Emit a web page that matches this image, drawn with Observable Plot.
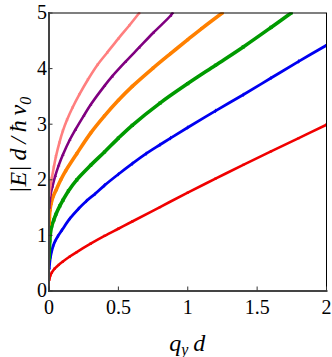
<!DOCTYPE html>
<html><head><meta charset="utf-8">
<script src="https://cdn.jsdelivr.net/npm/d3@7"></script>
<script src="https://cdn.jsdelivr.net/npm/@observablehq/plot@0.6"></script>
<style>html,body{margin:0;padding:0;background:#fff;}
svg, svg text, svg g{font-family:"Liberation Serif","Times New Roman",Times,serif !important;}</style>
</head><body><div id="chart"></div>
<script>
const xTicks = [0, 0.5, 1, 1.5, 2];
const yTicks = [0, 1, 2, 3, 4, 5];

const qRed = [0.002,0.005,0.01,0.02,0.04,0.07,0.1,0.15,0.2,0.3,0.4,0.5,0.6,0.8,1.0,1.2,1.4,1.6,1.8,2.0];
const eRed = [0.20,0.24,0.28,0.33,0.40,0.47,0.53,0.62,0.70,0.85,0.99,1.12,1.25,1.51,1.77,2.02,2.27,2.51,2.75,2.99];

const qBlue = [0.002,0.005,0.01,0.02,0.03,0.045,0.065,0.092,0.15,0.213,0.27,0.333,0.4,0.5,0.6,0.7,0.8,0.876,1.0,1.2,1.4,1.6,1.8,2.0];
const eBlue = [0.40,0.50,0.60,0.72,0.81,0.90,0.99,1.09,1.30,1.48,1.62,1.75,1.90,2.10,2.29,2.47,2.63,2.75,2.94,3.24,3.53,3.83,4.13,4.42];

const qGreen = [0.001,0.003,0.006,0.01,0.02,0.035,0.05,0.078,0.1,0.14,0.2,0.3,0.4,0.5,0.6,0.8,1.0,1.2,1.4,1.6,1.745];
const eGreen = [0.58,0.75,0.90,1.03,1.17,1.28,1.38,1.53,1.63,1.80,2.00,2.26,2.50,2.75,2.98,3.38,3.73,4.06,4.39,4.74,5.0];

const qOrange = [0.001,0.003,0.007,0.015,0.03,0.05,0.085,0.12,0.2,0.3,0.4,0.5,0.6,0.75,0.876,1.0,1.1,1.248];
const eOrange = [1.20,1.32,1.45,1.57,1.70,1.81,2.00,2.16,2.47,2.84,3.15,3.43,3.68,4.01,4.27,4.52,4.72,5.0];

const qPurple = [0.002,0.006,0.012,0.025,0.045,0.07,0.1,0.15,0.19,0.25,0.3,0.4,0.455,0.55,0.65,0.75,0.876,0.89];
const ePurple = [1.50,1.63,1.74,1.88,2.07,2.26,2.45,2.72,2.90,3.15,3.35,3.69,3.86,4.12,4.38,4.64,4.95,5.0];

const qPink = [0.002,0.006,0.012,0.02,0.035,0.05,0.075,0.1,0.13,0.17,0.22,0.28,0.35,0.42,0.5,0.58,0.65];
const ePink = [1.72,1.81,1.91,2.03,2.23,2.42,2.67,2.88,3.08,3.30,3.54,3.80,4.07,4.29,4.54,4.78,5.0];

const seriesNames = ["red", "blue", "green", "orange", "purple", "pink"];
const seriesQ = [qRed, qBlue, qGreen, qOrange, qPurple, qPink];
const seriesE = [eRed, eBlue, eGreen, eOrange, ePurple, ePink];

const colors = ["#f00000", "#0000f0", "#009a00", "#ff8000", "#800080", "#ff7f7f"];
const symbols = ["square", "diamond", "square", "circle", "triangle", "asterisk"];
const widths = [2.6, 2.8, 3.6, 3.6, 2.6, 2.6];

const rows = [];
seriesNames.forEach((s, i) => seriesQ[i].forEach((q, j) => rows.push({series: s, q, e: seriesE[i][j]})));

const W = 332, H = 357;
const mL = 48.5, mR = 6, mT = 12.5, mB = 66.5;
const FONT = "Liberation Serif, Times New Roman, serif";

const marks = [];
seriesNames.forEach((s, i) => {
  const d = rows.filter(r => r.series === s);
  marks.push(Plot.line(d, {x: "q", y: "e", stroke: colors[i], strokeWidth: widths[i], curve: "catmull-rom", clip: true}));
  marks.push(Plot.dot(d, {x: "q", y: "e", symbol: () => symbols[i], r: widths[i] / 2, fill: colors[i], stroke: symbols[i] === "asterisk" ? colors[i] : "none", strokeWidth: 1, clip: true}));
});
marks.push(Plot.frame({stroke: "#000", strokeWidth: 1}));
marks.push(Plot.frame({anchor: "bottom", stroke: "#444", strokeWidth: 2}));
marks.push(Plot.frame({anchor: "left", stroke: "#444", strokeWidth: 2}));
marks.push(Plot.axisX({ticks: xTicks, tickSize: -4, tickPadding: 13, tickFormat: d => String(d), label: null, stroke: "#333", fontFamily: FONT, fontSize: 20}));
marks.push(Plot.axisY({ticks: yTicks, tickSize: -4, tickPadding: 6, tickFormat: d => String(d), label: null, stroke: "#333", fontFamily: FONT, fontSize: 20}));

const chart = Plot.plot({
  width: W, height: H,
  marginLeft: mL, marginRight: mR, marginTop: mT, marginBottom: mB,
  x: {domain: [0, 2]},
  y: {domain: [0, 5]},
  style: {fontFamily: FONT, fontSize: "20px", color: "#000", background: "#fff"},
  marks
});

const svg = d3.select(chart);
svg.selectAll("text").attr("font-family", FONT).style("font-family", FONT);
const cx = mL + (W - mL - mR) / 2;
const xl = svg.append("text")
  .attr("x", cx).attr("y", H - 6)
  .attr("text-anchor", "middle")
  .style("font-family", FONT).attr("font-size", 24).attr("font-style", "italic").attr("fill", "#000");
xl.append("tspan").text("q");
xl.append("tspan").attr("dy", 4).attr("font-size", 16).text("y");
xl.append("tspan").attr("dy", -4).text("\u2009d");

const cy = 145;
const yl = svg.append("text")
  .attr("transform", `translate(26,${cy}) rotate(-90)`)
  .attr("text-anchor", "middle")
  .style("font-family", FONT).attr("font-size", 24).attr("font-style", "italic").attr("fill", "#000");
yl.append("tspan").text("|E|\u2009d\u2009/\u2009\u0127\u2009v");
yl.append("tspan").attr("dy", 5).attr("font-size", 16).text("0");

document.getElementById("chart").appendChild(chart);
</script>
</body></html>
